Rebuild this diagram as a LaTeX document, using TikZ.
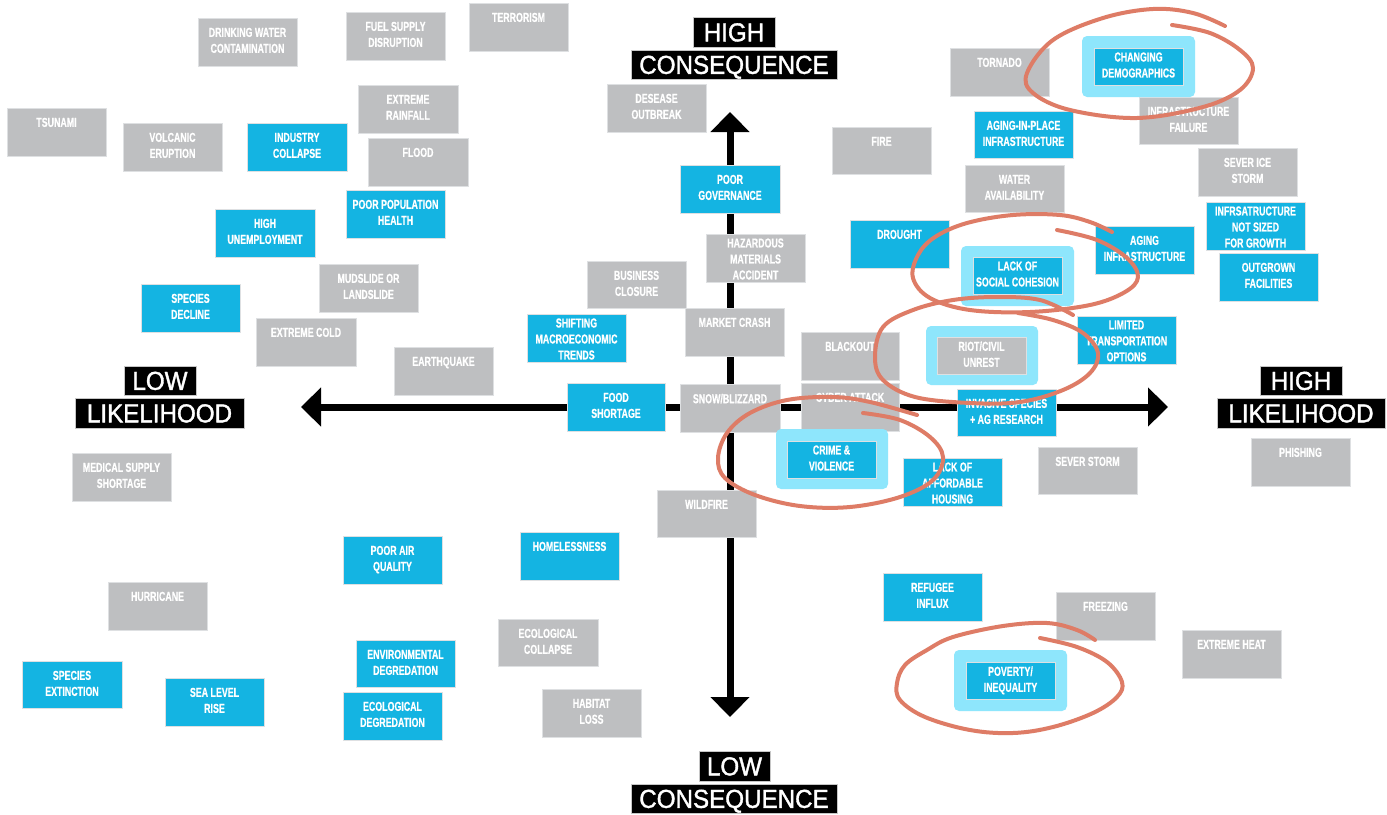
\documentclass[tikz,border=0pt]{standalone}
\usepackage{fontspec}
\usetikzlibrary{arrows.meta}
\newfontfamily\boxfont{Liberation Sans}[FakeStretch=0.68, FakeBold=0.6]
\newfontfamily\axfont{Liberation Sans}[FakeStretch=0.93, FakeBold=1.4]
\definecolor{grayb}{RGB}{190,191,193}
\definecolor{blueb}{RGB}{20,180,226}
\definecolor{halo}{RGB}{142,230,252}
\definecolor{redink}{RGB}{222,124,102}
\definecolor{edge}{RGB}{222,224,226}
\tikzset{
  gbox/.style={rectangle, fill=grayb, draw=edge, line width=0.8pt, inner sep=0pt},
  bbox/.style={rectangle, fill=blueb, draw=edge, line width=0.8pt, inner sep=0pt},
  hbox/.style={rectangle, rounded corners=5pt, fill=halo, inner sep=0pt},
  lab/.style={inner sep=0pt, align=center, text=white, font=\boxfont\bfseries\fontsize{13}{16}\selectfont},
  axlab/.style={fill=black, text=white, draw=gray!45, line width=0.6pt, inner sep=0pt,
    font=\axfont\fontsize{26}{26}\selectfont, text height=18.7pt, text depth=0pt},
  axisline/.style={line width=7pt, {Triangle[length=20pt,width=38pt]}-{Triangle[length=20pt,width=38pt]}},
  loopline/.style={draw=redink, line width=4pt, line cap=round, line join=round}
}
% #1 style, #2 name, #3 x1, #4 y1, #5 x2, #6 y2, #7 text
\newcommand\rb[7]{%
  \node[#1, minimum width={(#5-#3)*1pt}, minimum height={(#6-#4)*1pt}] (#2) at ({(#3+#5)/2},{(#4+#6)/2}) {};
  \node[lab, anchor=north] (#2-t) at ([yshift=-10pt]#2.north) {#7};}
\newcommand\rbc[7]{%
  \node[#1, minimum width={(#5-#3)*1pt}, minimum height={(#6-#4)*1pt}] (#2) at ({(#3+#5)/2},{(#4+#6)/2}) {};
  \node[lab, anchor=north] (#2-t) at ([yshift=-4.6pt]#2.north) {#7};}
\newcommand\hl[5]{%
  \node[hbox, minimum width={(#4-#2)*1pt}, minimum height={(#5-#3)*1pt}] (#1) at ({(#2+#4)/2},{(#3+#5)/2}) {};}
\begin{document}
\begin{tikzpicture}[x=1pt,y=-1pt]
\useasboundingbox (0,0) rectangle (1387,814);
\fill[white] (0,0) rectangle (1387,814);
% axes
\coordinate (axT) at (730,112);
\coordinate (axB) at (730,717);
\coordinate (axL) at (301,407);
\coordinate (axR) at (1168,407);
\draw[axisline] (axL) -- (axR);
\draw[axisline] (axB) -- (axT);
% gray boxes
\rb{gbox}{dwc}{198}{18}{297}{66}{DRINKING WATER\\CONTAMINATION}
\rb{gbox}{fsd}{346}{12}{445}{60}{FUEL SUPPLY\\DISRUPTION}
\rb{gbox}{ter}{469}{3}{568}{51}{TERRORISM}
\rb{gbox}{tsu}{7}{108}{106}{156}{TSUNAMI}
\rb{gbox}{vol}{123}{123}{222}{171}{VOLCANIC\\ERUPTION}
\rb{gbox}{exr}{358}{85}{458}{133}{EXTREME\\RAINFALL}
\rb{gbox}{flo}{368}{138}{468}{186}{FLOOD}
\rb{gbox}{mud}{319}{264}{418}{312}{MUDSLIDE OR\\LANDSLIDE}
\rb{gbox}{exc}{256}{318}{356}{366}{EXTREME COLD}
\rb{gbox}{eq}{394}{347}{493}{395}{EARTHQUAKE}
\rb{gbox}{med}{72}{453}{171}{501}{MEDICAL SUPPLY\\SHORTAGE}
\rb{gbox}{hur}{108}{582}{207}{630}{HURRICANE}
\rb{gbox}{eco}{498}{619}{598}{666}{ECOLOGICAL\\COLLAPSE}
\rb{gbox}{hab}{542}{689}{641}{737}{HABITAT\\LOSS}
\rb{gbox}{des}{607}{84}{706}{132}{DESEASE\\OUTBREAK}
\rbc{gbox}{haz}{706}{234}{805}{282}{HAZARDOUS\\MATERIALS\\ACCIDENT}
\rb{gbox}{bus}{587}{261}{686}{308}{BUSINESS\\CLOSURE}
\rb{gbox}{mkt}{685}{308}{784}{356}{MARKET CRASH}
\rb{gbox}{snow}{680}{384}{780}{432}{SNOW/BLIZZARD}
\rb{gbox}{wild}{657}{490}{756}{537}{WILDFIRE}
\rb{gbox}{fire}{832}{127}{931}{174}{FIRE}
\rb{gbox}{tor}{950}{48}{1049}{96}{TORNADO}
\rb{gbox}{inff}{1139}{97}{1238}{144}{INFRASTRUCTURE\\FAILURE}
\rb{gbox}{wat}{965}{165}{1064}{212}{WATER\\AVAILABILITY}
\rb{gbox}{ice}{1198}{148}{1297}{196}{SEVER ICE\\STORM}
\rb{gbox}{blk}{801}{332}{899}{380}{BLACKOUT}
\rb{gbox}{cyb}{801}{383}{899}{431}{CYBER ATTACK}
\rb{gbox}{svs}{1038}{447}{1137}{494}{SEVER STORM}
\rb{gbox}{phi}{1251}{438}{1350}{486}{PHISHING}
\rb{gbox}{frz}{1056}{592}{1155}{640}{FREEZING}
\rb{gbox}{heat}{1182}{630}{1281}{678}{EXTREME HEAT}
% blue boxes
\rb{bbox}{ind}{247}{123}{347}{171}{INDUSTRY\\COLLAPSE}
\rb{bbox}{pph}{346}{190}{445}{238}{POOR POPULATION\\HEALTH}
\rb{bbox}{unemp}{215}{209}{315}{257}{HIGH\\UNEMPLOYMENT}
\rb{bbox}{spd}{141}{284}{240}{332}{SPECIES\\DECLINE}
\rb{bbox}{air}{343}{536}{442}{584}{POOR AIR\\QUALITY}
\rb{bbox}{spe}{22}{661}{122}{708}{SPECIES\\EXTINCTION}
\rb{bbox}{sea}{165}{678}{264}{726}{SEA LEVEL\\RISE}
\rb{bbox}{env}{356}{640}{455}{687}{ENVIRONMENTAL\\DEGREDATION}
\rb{bbox}{ecd}{343}{692}{442}{740}{ECOLOGICAL\\DEGREDATION}
\rb{bbox}{home}{520}{532}{619}{580}{HOMELESSNESS}
\rbc{bbox}{shift}{527}{314}{626}{362}{SHIFTING\\MACROECONOMIC\\TRENDS}
\rb{bbox}{food}{567}{383}{665}{431}{FOOD\\SHORTAGE}
\rb{bbox}{gov}{680}{165}{780}{213}{POOR\\GOVERNANCE}
\rb{bbox}{dro}{850}{220}{949}{268}{DROUGHT}
\rb{bbox}{aip}{974}{111}{1073}{158}{AGING-IN-PLACE\\INFRASTRUCTURE}
\rb{bbox}{agi}{1095}{226}{1194}{274}{AGING\\INFRASTRUCTURE}
\rbc{bbox}{nsg}{1206}{202}{1305}{250}{INFRSATRUCTURE\\NOT SIZED\\FOR GROWTH}
\rb{bbox}{outg}{1219}{253}{1318}{301}{OUTGROWN\\FACILITIES}
\rbc{bbox}{lim}{1077}{316}{1176}{364}{LIMITED\\TRANSPORTATION\\OPTIONS}
\rb{bbox}{inv}{957}{389}{1056}{436}{INVASIVE SPECIES\\+ AG RESEARCH}
\rbc{bbox}{aff}{903}{458}{1002}{506}{LACK OF\\AFFORDABLE\\HOUSING}
\rb{bbox}{ref}{883}{573}{982}{621}{REFUGEE\\INFLUX}
% highlighted items
\hl{chg-h}{1082}{36}{1195}{97}
\rbc{bbox}{chg}{1094}{48}{1183}{85}{CHANGING\\DEMOGRAPHICS}
\hl{soc-h}{961}{246}{1074}{306}
\rbc{bbox}{soc}{973}{257}{1062}{294}{LACK OF\\SOCIAL COHESION}
\hl{riot-h}{926}{326}{1038}{385}
\rbc{gbox}{riot}{937}{337}{1026}{374}{RIOT/CIVIL\\UNREST}
\hl{crime-h}{776}{429}{888}{489}
\rbc{bbox}{crime}{787}{441}{876}{478}{CRIME \&\\VIOLENCE}
\hl{pov-h}{954}{650}{1067}{711}
\rbc{bbox}{pov}{966}{662}{1055}{699}{POVERTY/\\INEQUALITY}
% axis labels
\node[axlab, minimum width=82pt, minimum height=30pt] (hc1) at (734,32) {HIGH};
\node[axlab, minimum width=206pt, minimum height=29pt] (hc2) at (734,64.5) {CONSEQUENCE};
\node[axlab, minimum width=71pt, minimum height=30pt] (lc1) at (734.5,766) {LOW};
\node[axlab, minimum width=206pt, minimum height=29pt] (lc2) at (734,798.5) {CONSEQUENCE};
\node[axlab, minimum width=72pt, minimum height=29pt] (ll1) at (160,380.5) {LOW};
\node[axlab, minimum width=169pt, minimum height=30pt] (ll2) at (159.5,413) {LIKELIHOOD};
\node[axlab, minimum width=82pt, minimum height=29pt] (hl1) at (1301,380.5) {HIGH};
\node[axlab, minimum width=168pt, minimum height=30pt] (hl2) at (1301,413) {LIKELIHOOD};
% hand-drawn loops
\draw[loopline] plot[smooth, tension=0.6] coordinates {(1172,25) (1210,33) (1240,50) (1253,68) (1240,90) (1203,107) (1137,118) (1070,110) (1033,93) (1027,73) (1053,40) (1103,18) (1153,9) (1193,13) (1225,26)};
\draw[loopline] plot[smooth, tension=0.6] coordinates {(1057,230) (1097,240) (1127,258) (1138,277) (1125,292) (1090,305) (1030,312) (970,310) (930,298) (913,278) (918,255) (935,237) (967,223) (1013,215) (1060,215) (1090,222) (1112,232)};
\draw[loopline] plot[smooth, tension=0.6] coordinates {(1018,313) (1053,320) (1083,333) (1098,353) (1090,373) (1063,390) (1020,402) (970,403) (915,397) (883,380) (875,357) (883,327) (913,310) (953,300) (997,297) (1040,300) (1073,315)};
\draw[loopline] plot[smooth, tension=0.6] coordinates {(863,413) (900,420) (930,437) (943,457) (933,480) (900,497) (850,507) (800,506) (755,495) (725,478) (718,458) (727,433) (750,413) (787,400) (833,397) (870,402) (917,415)};
\draw[loopline] plot[smooth, tension=0.6] coordinates {(1040,638) (1077,647) (1107,662) (1122,682) (1117,697) (1093,713) (1053,727) (1013,733) (970,730) (925,717) (900,700) (897,683) (905,665) (927,650) (953,637) (1003,626) (1047,623) (1077,630) (1095,640)};
\end{tikzpicture}
\end{document}
